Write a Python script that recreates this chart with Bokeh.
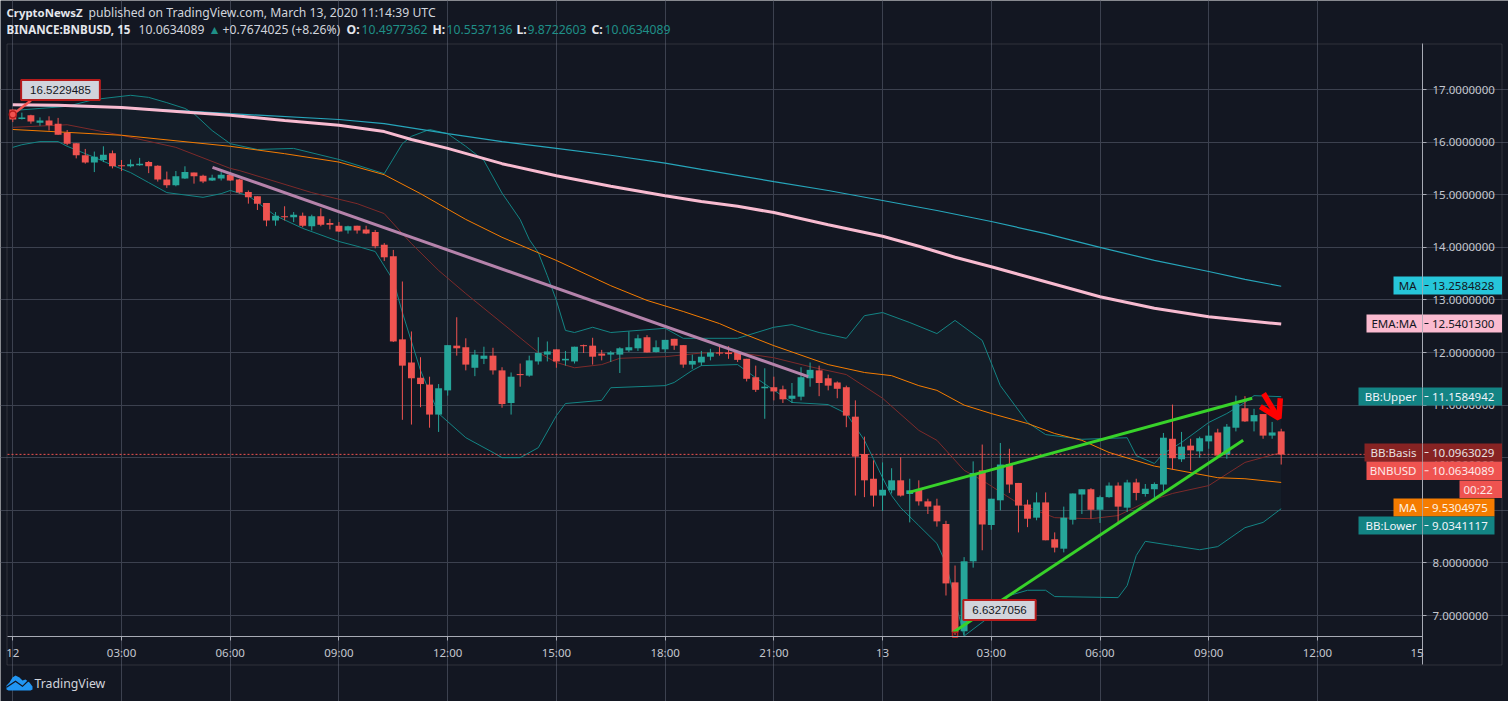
from bokeh.plotting import figure
from bokeh.embed import file_html
from bokeh.resources import INLINE
from bokeh.models import (FixedTicker, NumeralTickFormatter, Label, BoxAnnotation,
                          PolyAnnotation, ColumnDataSource)

# ---- candles (15 min bars, BINANCE:BNBUSD) ----
opens = [16.62,16.44,16.51,16.37,16.41,16.35,16.18,15.98,15.75,15.61,
 15.66,15.79,15.56,15.54,15.56,15.62,15.55,15.29,15.18,15.31,
 15.42,15.36,15.27,15.31,15.38,15.29,15.05,14.97,14.84,14.51,
 14.59,14.57,14.60,14.40,14.59,14.46,14.41,14.32,14.41,14.34,
 14.29,14.05,13.83,12.25,11.81,11.52,11.39,10.82,11.28,12.13,
 12.10,11.71,11.88,11.94,11.66,11.04,11.59,11.56,11.83,11.96,
 12.06,11.85,11.83,12.14,12.13,11.98,11.96,11.96,12.04,12.08,
 12.29,12.01,12.06,12.26,12.14,11.77,11.81,11.92,12.00,12.00,
 12.01,11.88,11.53,11.32,11.34,11.30,11.12,11.16,11.51,11.66,
 11.51,11.43,11.34,10.78,10.07,9.60,9.28,9.38,9.57,9.31,
 9.39,9.17,9.09,8.74,7.63,6.70,8.03,9.76,8.72,9.19,
 9.88,9.52,9.11,8.86,9.15,8.45,8.27,8.82,9.30,9.40,
 9.01,9.25,9.47,9.05,9.53,9.31,9.40,9.49,10.36,9.97,
 10.23,10.12,10.31,10.48,10.06,10.57,10.94,10.69,10.83,10.42,
 10.50]
highs = [16.62,16.56,16.52,16.47,16.49,16.46,16.23,15.98,15.87,15.82,
 15.92,15.84,15.66,15.67,15.70,15.64,15.56,15.44,15.45,15.54,
 15.42,15.38,15.38,15.43,15.42,15.30,15.08,14.97,14.84,14.67,
 14.78,14.67,14.66,14.62,14.74,14.54,14.48,14.41,14.41,14.41,
 14.33,14.08,13.95,13.35,12.40,11.91,11.54,11.40,12.14,12.67,
 12.27,12.05,12.11,12.09,11.72,11.62,11.79,11.94,12.29,12.21,
 12.06,12.03,12.11,12.15,12.28,12.05,12.03,12.10,12.40,12.34,
 12.33,12.23,12.24,12.26,12.14,11.96,12.03,12.07,12.13,12.12,
 12.03,11.88,11.75,11.70,11.54,11.37,11.42,11.72,11.81,11.75,
 11.58,11.45,11.37,11.09,10.40,9.95,9.91,9.80,10.01,9.60,
 9.57,9.22,9.22,8.80,7.95,8.11,9.93,10.25,9.22,10.28,
 10.17,9.52,9.20,9.34,9.34,8.58,9.07,9.32,9.40,9.42,
 9.28,9.53,9.53,9.58,9.60,9.50,9.53,10.47,11.01,10.49,
 10.36,10.40,10.61,10.55,10.64,11.18,11.17,10.93,10.83,10.68,
 10.55]
lows = [16.38,16.43,16.35,16.31,16.22,16.14,15.94,15.69,15.59,15.43,
 15.62,15.50,15.45,15.52,15.55,15.41,15.25,15.13,15.16,15.30,
 15.21,15.22,15.26,15.27,15.26,15.02,14.83,14.71,14.40,14.41,
 14.51,14.48,14.38,14.32,14.40,14.34,14.29,14.26,14.26,14.25,
 13.98,13.74,12.20,10.72,10.63,10.96,10.57,10.49,11.18,11.94,
 11.66,11.55,11.78,11.58,10.95,10.82,11.35,11.54,11.77,11.83,
 11.71,11.75,11.79,11.99,11.77,11.85,11.82,11.61,12.01,12.03,
 12.00,12.00,12.00,12.05,11.71,11.69,11.75,11.85,11.94,11.88,
 11.82,11.45,11.25,10.74,11.09,11.04,11.04,11.09,11.35,11.17,
 11.28,11.13,10.58,9.28,9.25,9.07,8.99,9.32,9.26,8.77,
 9.09,8.93,8.69,7.38,6.63,6.63,7.91,8.24,8.63,9.00,
 9.33,8.58,8.68,8.81,8.43,8.20,8.20,8.73,8.93,8.84,
 8.76,9.24,8.76,8.97,9.19,9.26,9.22,9.36,9.77,9.92,
 9.76,10.00,10.17,10.04,9.98,10.50,10.68,10.50,10.36,10.36,
 9.87]
closes = [16.43,16.47,16.39,16.41,16.32,16.14,15.97,15.75,15.61,15.72,
 15.76,15.54,15.54,15.58,15.59,15.54,15.29,15.18,15.35,15.43,
 15.35,15.25,15.32,15.38,15.27,15.04,14.95,14.83,14.51,14.60,
 14.57,14.62,14.41,14.59,14.43,14.43,14.30,14.40,14.32,14.26,
 14.02,13.81,12.21,11.75,11.51,11.40,10.82,11.32,12.14,12.08,
 11.77,11.96,11.94,11.66,11.02,11.54,11.57,11.85,11.99,12.02,
 11.83,11.88,12.11,12.12,11.92,11.94,12.00,12.08,12.10,12.27,
 12.00,12.10,12.24,12.13,11.77,11.84,11.92,12.00,11.98,11.97,
 11.86,11.50,11.29,11.35,11.26,11.11,11.18,11.53,11.67,11.42,
 11.37,11.31,10.80,10.02,9.57,9.28,9.39,9.57,9.28,9.38,
 9.17,9.07,8.79,7.61,6.68,8.03,9.71,8.73,9.22,9.87,
 9.49,9.09,8.84,9.15,8.43,8.29,8.86,9.32,9.40,9.01,
 9.25,9.47,9.07,9.53,9.33,9.41,9.50,10.38,9.99,10.21,
 10.14,10.37,10.42,10.04,10.59,11.02,10.69,10.81,10.42,10.48,
 10.06]

# ---- indicators: (bar index, price) ----
ma_x = [0,12,24,36,41,48,54,60,66,72,76,84,90,96,102,108,114,120,126,132,136,140]
ma_y = [16.70,16.66,16.54,16.43,16.35,16.16,16.01,15.88,15.75,15.60,15.48,15.25,15.08,14.89,14.70,14.49,14.26,14.00,13.75,13.54,13.39,13.26]
ema_x = [0,5,12,20,24,30,36,41,44,48,54,60,66,72,76,80,84,90,96,100,104,108,112,116,120,126,132,136,140]
ema_y = [16.71,16.70,16.66,16.56,16.51,16.41,16.32,16.20,16.05,15.88,15.59,15.36,15.16,14.98,14.87,14.78,14.66,14.43,14.21,14.02,13.81,13.63,13.44,13.25,13.06,12.84,12.68,12.61,12.54]
sma_x = [0,12,24,30,36,41,45,50,54,60,66,70,74,78,80,84,90,94,97,100,102,105,108,112,115,118,121,126,128,133,136,140]
sma_y = [16.24,16.13,15.92,15.78,15.62,15.38,15.02,14.53,14.19,13.75,13.27,12.99,12.78,12.55,12.40,12.13,11.77,11.62,11.56,11.37,11.28,11.00,10.84,10.65,10.46,10.33,10.10,9.84,9.78,9.62,9.60,9.53]
basis_x = [0,6,12,18,24,25,33,38,41,44,47,50,52,58,60,62,65,67,72,76,80,84,88,92,96,100,102,105,107,111,115,119,122,125,128,132,136,140]
basis_y = [16.28,16.33,16.13,15.90,15.50,15.46,15.04,14.83,14.64,14.07,13.56,13.12,12.84,12.00,11.81,11.71,11.77,11.89,11.92,11.99,12.00,11.90,11.73,11.58,11.13,10.52,10.33,9.76,9.57,9.13,8.86,8.84,8.90,9.15,9.32,9.47,9.91,10.10]
upper_x = [0,3,6,9,13,15,17,19,20,22,24,27,31,36,41,43,44,46,48,50,52,54,56,57,58,59,60,61,62,64,66,72,74,80,84,86,89,92,94,96,99,102,104,107,109,112,114,118,123,124,126,127,129,132,134,136,137,140]
upper_y = [16.60,16.64,16.68,16.81,16.89,16.85,16.75,16.64,16.54,16.22,15.97,15.86,15.88,15.67,15.40,15.97,16.11,16.24,16.16,15.92,15.65,15.03,14.53,14.15,13.90,13.46,12.99,12.42,12.38,12.48,12.38,12.46,12.27,12.27,12.48,12.53,12.38,12.27,12.70,12.76,12.57,12.36,12.61,12.23,11.37,10.67,10.44,10.35,10.38,10.04,9.89,10.08,10.29,10.67,10.84,11.05,11.18,11.16]
lower_x = [0,1,3,5,6,9,11,13,15,17,21,23,24,26,29,32,36,38,40,42,43,45,47,50,53,54,56,58,60,61,65,66,72,73,75,76,80,82,86,90,92,94,96,97,98,100,102,103,104,105,108,110,112,114,115,122,123,124,125,128,131,133,136,138,140]
lower_y = [15.90,15.95,16.01,16.01,15.92,15.71,15.56,15.42,15.23,15.04,14.95,15.02,15.08,14.98,14.60,14.36,14.11,14.02,13.92,13.37,12.76,11.66,10.84,10.38,10.10,10.00,10.00,10.19,10.80,11.03,11.09,11.33,11.37,11.43,11.66,11.75,11.77,11.52,11.05,11.01,10.84,10.33,9.62,9.28,9.05,8.71,8.37,7.99,7.29,6.61,7.00,7.38,7.48,7.48,7.36,7.34,7.57,8.14,8.41,8.33,8.25,8.31,8.67,8.77,9.03]

# ---- drawings ----
down_x, down_y = [22.04, 87.8], [15.52, 11.54]
green1_x, green1_y = [98.9, 136.8], [9.34, 11.13]
green2_x, green2_y = [103.8, 135.8], [6.68, 10.33]
arrow_x, arrow_y = [138.05, 139.6], [11.22, 10.78]
head_x, head_y = [137.7, 139.75, 139.9], [10.97, 10.75, 11.13]
high_value, low_value = 16.5229485, 6.6327056
last_price = 10.0634089

# ---- axes ----
price_ticks = [7,8,9,10,11,12,13,14,15,16,17]
time_ticks = [0,12,24,36,48,60,72,84,96,108,120,132,144]
time_labels = ["12","03:00","06:00","09:00","12:00","15:00","18:00","21:00","13","03:00","06:00","09:00","12:00"]

# ---- layout helpers: image pixel -> chart coordinates ----
def X(px): return (px - 12.3) / 9.06
def Y(px): return 17 - (px - 89) / 52.6

BG = "#131722"
FONT = "Noto Sans"
UP, DOWN = "#26a69a", "#ef5350"

# the frame covers the whole canvas; axes sit inside it at fixed locations
p = figure(width=1508, height=701, output_backend="svg", toolbar_location=None,
           x_range=(X(0), X(1508)), y_range=(Y(701), Y(0)),
           y_axis_location="right", min_border_left=0, min_border_right=0,
           min_border_top=0, min_border_bottom=0,
           background_fill_color=BG, border_fill_color=BG, outline_line_color=None)

p.xaxis.ticker = FixedTicker(ticks=time_ticks)
p.xaxis.major_label_overrides = dict(zip(time_ticks, time_labels))
p.xaxis.fixed_location = Y(636)
p.xaxis.bounds = (X(6.5), X(1422))
p.yaxis.ticker = FixedTicker(ticks=price_ticks)
p.yaxis.formatter = NumeralTickFormatter(format="0.0000000")
p.yaxis.fixed_location = X(1422)
p.yaxis.bounds = (Y(664), Y(43))
for ax in (p.xaxis, p.yaxis):
    ax.axis_line_color = "#a8abb5"
    ax.major_tick_line_color = "#a8abb5"
    ax.major_tick_out = 4
    ax.major_tick_in = 0
    ax.minor_tick_out = 0
    ax.minor_tick_in = 0
    ax.major_label_text_color = "#c4c7cf"
    ax.major_label_text_font = FONT
    ax.major_label_text_font_size = "11.5px"
p.xaxis.major_label_standoff = 4
p.yaxis.major_label_standoff = 6
p.xgrid.ticker = FixedTicker(ticks=time_ticks)
p.ygrid.ticker = FixedTicker(ticks=price_ticks)
p.xgrid.bounds = (Y(636), Y(43))
p.ygrid.bounds = (X(6.5), X(1422))
p.grid.grid_line_color = "#3c414f"
p.grid.grid_line_width = 1

# band
p.patch(upper_x + lower_x[::-1], upper_y + lower_y[::-1], fill_color=UP, fill_alpha=0.05, line_color=None)
p.line(upper_x, upper_y, line_color="#138484", line_width=1)
p.line(lower_x, lower_y, line_color="#138484", line_width=1)
p.line(basis_x, basis_y, line_color="#7d2a2a", line_width=1)
p.line(sma_x, sma_y, line_color="#f57c00", line_width=1)
p.line(ma_x, ma_y, line_color="#26a5ba", line_width=1.2)
p.line(ema_x, ema_y, line_color="#f8bbd0", line_width=3)

# candles
idx = list(range(len(opens)))
colors = [UP if c >= o else DOWN for o, c in zip(opens, closes)]
src = ColumnDataSource(dict(x=idx, o=opens, h=highs, l=lows, c=closes, color=colors))
p.segment("x", "h", "x", "l", source=src, line_color="color", line_width=1)
p.vbar("x", 0.76, "o", "c", source=src, fill_color="color", line_color=None)

p.line([X(7), X(1422)], [last_price, last_price], line_color=DOWN, line_dash=[2, 2], line_width=1)

# drawings
p.line(down_x, down_y, line_color="#b583ab", line_width=3)
p.line(green1_x, green1_y, line_color="#38d22a", line_width=3)
p.line(green2_x, green2_y, line_color="#38d22a", line_width=3)
p.line(arrow_x, arrow_y, line_color="#ff0000", line_width=5.5)
p.line(head_x, head_y, line_color="#ff0000", line_width=5.5)

# callouts
p.line([0, 2], [high_value, 16.79], line_color="#ef5350", line_width=2.5)
p.scatter([0], [high_value], marker="circle", size=7, fill_color=None, line_color="#b71c1c", line_width=1.5)
p.scatter([104], [low_value], marker="square", size=5, fill_color=None, line_color="#b71c1c", line_width=1.5)
for cx, cy, txt in [(60, 89.5, "16.5229485"), (999, 609.5, "6.6327056")]:
    p.add_layout(Label(x=X(cx), y=Y(cy), text=txt, text_align="center", text_baseline="middle",
                       text_font="Liberation Sans", text_font_size="11.5px", text_color="#131722",
                       background_fill_color="#d1d4dc", border_line_color="#b71c1c", border_line_width=2,
                       padding=(9, 6)))

# outer borders
p.add_layout(BoxAnnotation(left=X(6.5), right=X(1501.5), top=Y(43.5), bottom=Y(664.5),
                           fill_alpha=0, line_color="#6f727c", line_width=1))

# price labels: name, left px, right px, top px, bottom px, value, colours
tags = [("MA", 1393, 1501.5, 276, 294, "13.2584828", "#26c6da", "#131722"),
        ("EMA:MA", 1366, 1501.5, 314, 332, "12.5401300", "#fbbbd0", "#131722"),
        ("BB:Upper", 1358, 1501.5, 387, 405, "11.1584942", "#138484", "#f0f3fa"),
        ("BB:Basis", 1364, 1501.5, 443, 461, "10.0963029", "#872323", "#e8e0e0"),
        ("BNBUSD", 1366, 1501.5, 461, 479.5, "10.0634089", DOWN, "#fde8e8"),
        ("MA", 1393, 1494, 498, 516, "9.5304975", "#f57c00", "#fdf0e0"),
        ("BB:Lower", 1358, 1494, 516, 534, "9.0341117", "#138484", "#f0f3fa")]
for name, l, r, t, b, val, col, tc in tags:
    p.add_layout(BoxAnnotation(left=X(l), right=X(r), top=Y(t), bottom=Y(b), fill_color=col, fill_alpha=1, line_color=None))
    p.add_layout(Label(x=X(1416), y=Y((t + b) / 2), text=name, text_align="right", text_baseline="middle",
                       text_font=FONT, text_font_size="11.5px", text_color=tc))
    p.add_layout(Label(x=X(1431.5), y=Y((t + b) / 2), text=val, text_align="left", text_baseline="middle",
                       text_font=FONT, text_font_size="11.5px", text_color=tc))
    p.add_layout(BoxAnnotation(left=X(1424), right=X(1428), top=Y((t + b) / 2 - 0.5), bottom=Y((t + b) / 2 + 0.5),
                               fill_color=tc, fill_alpha=1, line_color=None))
    p.add_layout(BoxAnnotation(left=X(1421.6), right=X(1422.4), top=Y(t), bottom=Y(b),
                               fill_color="#a8abb5", fill_alpha=1, line_color=None))
p.add_layout(BoxAnnotation(left=X(1459), right=X(1501.5), top=Y(480), bottom=Y(497.5), fill_color=DOWN, fill_alpha=1, line_color=None))
p.add_layout(Label(x=X(1463), y=Y(489), text="00:22", text_align="left", text_baseline="middle",
                   text_font=FONT, text_font_size="11.5px", text_color="#fde8e8"))
p.add_layout(Label(x=X(1410), y=Y(652), text="15", text_align="left", text_baseline="middle",
                   text_font=FONT, text_font_size="11.5px", text_color="#c4c7cf"))

# header
def hdr(px, py, text, color="#d1d4dc", style="normal", size="12.2px"):
    p.add_layout(Label(x=X(px), y=Y(py), text=text, text_align="left", text_baseline="middle",
                       text_font=FONT, text_font_size=size, text_color=color, text_font_style=style))
VAL = "#1f8f87"
hdr(6, 12, "CryptoNewsZ", "#e4e6ec", "bold", "11.4px")
hdr(88, 12, "published on TradingView.com, March 13, 2020 11:14:39 UTC")
hdr(6, 29, "BINANCE:BNBUSD, 15", "#e4e6ec", "bold", "11.6px")
hdr(138, 29, "10.0634089")
hdr(208, 29, "\u25b2", VAL)
hdr(222, 29, "+0.7674025 (+8.26%)")
hdr(346, 29, "O:", "#e4e6ec", "bold")
hdr(361, 29, "10.4977362", VAL)
hdr(432, 29, "H:", "#e4e6ec", "bold")
hdr(446, 29, "10.5537136", VAL)
hdr(516, 29, "L:", "#e4e6ec", "bold")
hdr(527, 29, "9.8722603", VAL)
hdr(591, 29, "C:", "#e4e6ec", "bold")
hdr(604, 29, "10.0634089", VAL)

# logo
cloud_px = [(6,689),(6,685),(9,682),(12,677),(15,675),(19,677),(22,680),(25,679),(29,682),(32,686),(32,689),(30,690),(8,690)]
p.add_layout(PolyAnnotation(xs=[X(a) for a, b in cloud_px], ys=[Y(b) for a, b in cloud_px],
                            fill_color="#2196f3", fill_alpha=1, line_color=None))
zig_px = [(6,686),(15,680),(22,685),(28,679),(28.5,680.5),(22,686.5),(15,681.5),(6,687.5)]
p.add_layout(PolyAnnotation(xs=[X(a) for a, b in zig_px], ys=[Y(b) for a, b in zig_px],
                            fill_color=BG, fill_alpha=1, line_color=None))
p.add_layout(Label(x=X(34), y=Y(682.5), text="TradingView", text_align="left", text_baseline="middle",
                   text_font=FONT, text_font_size="12.3px", text_color="#d1d4dc"))

open("out.html", "w").write(file_html(p, INLINE))
